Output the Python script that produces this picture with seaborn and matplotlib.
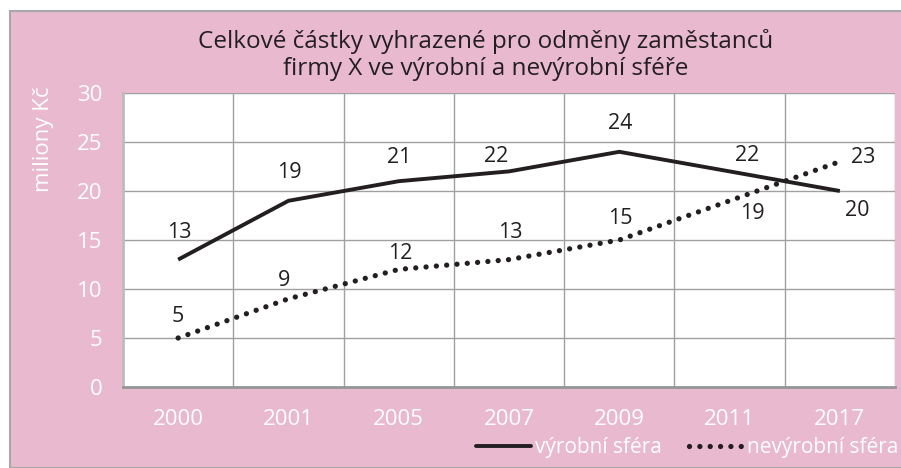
import numpy as np
import pandas as pd
import seaborn as sns
import matplotlib.pyplot as plt
from matplotlib.patches import Rectangle
from matplotlib.lines import Line2D

# data
roky = ['2000', '2001', '2005', '2007', '2009', '2011', '2017']
vyrobni = [13, 19, 21, 22, 24, 22, 20]
nevyrobni = [5, 9, 12, 13, 15, 19, 23]
nazvy = ['výrobní sféra', 'nevýrobní sféra']

# label offsets in pixels (dx, dy) for value labels
off_vyr = [(1, 27), (1, 28), (0, 24), (-13, 15), (1, 28), (18, 16), (17, -19)]
off_nevyr = [(0, 21), (-4, 18), (2, 16), (1, 27), (1, 22), (23, -13), (23, 4)]

df = pd.DataFrame({
    'rok': roky * 2,
    'hodnota': vyrobni + nevyrobni,
    'sfera': [nazvy[0]] * len(roky) + [nazvy[1]] * len(roky),
})

sns.set_theme(style='white')
plt.rcParams['font.family'] = ['Open Sans', 'DejaVu Sans']

pink = '#e8b9cf'
dark = '#231f20'

fig = plt.figure(figsize=(9.01, 4.68), dpi=100, facecolor='white')
fig.patches.append(Rectangle((10 / 901, 0), 1, 1 - 11 / 468, transform=fig.transFigure,
                             facecolor=pink, edgecolor='#a8a8a8', linewidth=1.5, zorder=-10))
ax = fig.add_axes([123 / 901, 81 / 468, 772 / 901, 294 / 468])
ax.set_zorder(1)
ax.set_facecolor('white')

sns.lineplot(data=df[df.sfera == nazvy[0]], x='rok', y='hodnota', ax=ax,
             color=dark, linewidth=2.8, sort=False, label=nazvy[0])
sns.lineplot(data=df[df.sfera == nazvy[1]], x='rok', y='hodnota', ax=ax,
             color=dark, linewidth=3.8, sort=False, label=nazvy[1])
l1, l2 = ax.get_lines()[:2]
l2.set_linestyle((0, (0.01, 1.95)))
l2.set_dash_capstyle('round')
l1.set_solid_capstyle('butt')

for i, (v, o) in enumerate(zip(vyrobni, off_vyr)):
    ax.annotate(str(v), (i, v), xytext=o, textcoords='offset pixels',
                ha='center', va='center', fontsize=15.5, color=dark)
for i, (v, o) in enumerate(zip(nevyrobni, off_nevyr)):
    ax.annotate(str(v), (i, v), xytext=o, textcoords='offset pixels',
                ha='center', va='center', fontsize=15.5, color=dark)

ax.set_xlim(-0.5, len(roky) - 0.5)
ax.set_ylim(0, 30)
ax.set_yticks(range(0, 31, 5))
ax.set_xticks(range(len(roky)))
ax.set_xticklabels(roky)
ax.set_xticks(np.arange(-0.5, len(roky), 1), minor=True)
ax.grid(False)
ax.grid(True, axis='y', which='major', color='#a0a0a0', linewidth=1)
ax.grid(True, axis='x', which='minor', color='#a0a0a0', linewidth=1)
ax.tick_params(axis='both', which='both', length=0, colors='white', labelsize=16)
ax.tick_params(axis='y', pad=15)
ax.tick_params(axis='x', pad=16)
ax.set_xlabel('')
ax.set_ylabel('')
for s in ['top', 'right']:
    ax.spines[s].set_visible(False)
ax.spines['left'].set_color('#bdbdbd')
ax.spines['left'].set_linewidth(2)
ax.spines['bottom'].set_color('#969696')
ax.spines['bottom'].set_linewidth(2)

fig.text(486 / 901, 1 - 55 / 468,
         'Celkové částky vyhrazené pro odměny zaměstanců\nfirmy X ve výrobní a nevýrobní sféře',
         ha='center', va='center', fontsize=17.5, color=dark, linespacing=1.15)
fig.text(43 / 901, 1 - 139 / 468, 'miliony Kč', rotation=90, ha='center', va='center',
         fontsize=16, color='white')

handles = [Line2D([], [], color=dark, linewidth=2.8),
           Line2D([], [], color=dark, linewidth=3.8, linestyle=(0, (0.01, 1.95)),
                  dash_capstyle='round')]
ax.get_legend().remove()
fig.legend(handles, nazvy, loc='center right', bbox_to_anchor=(1.018, 1 - 448 / 468),
           ncol=2, frameon=False, fontsize=15, labelcolor='white',
           handlelength=2.6, handletextpad=0.2, columnspacing=1.3)

fig.savefig('out.png', dpi=100, facecolor='white')
